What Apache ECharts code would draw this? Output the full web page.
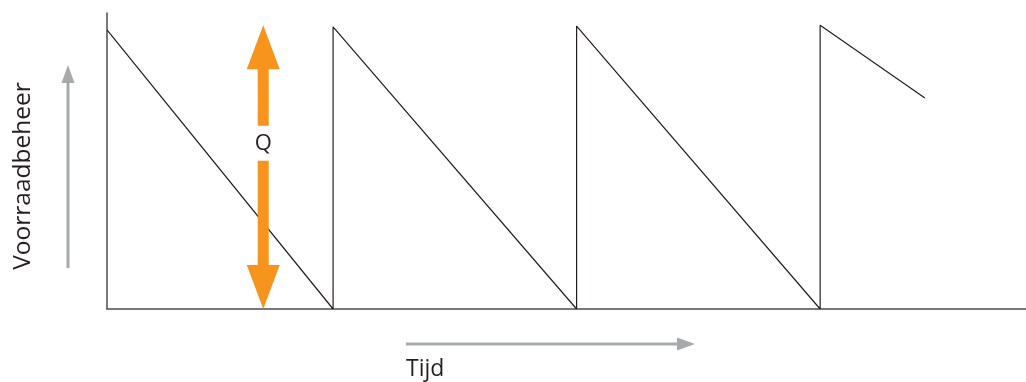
<!DOCTYPE html>
<html>
<head>
<meta charset="utf-8">
<script src="https://cdn.jsdelivr.net/npm/echarts@6/dist/echarts.min.js"></script>
<style>
  html, body { margin: 0; padding: 0; background: #fff; }
  #chart { width: 1026px; height: 382px; }
</style>
</head>
<body>
<div id="chart"></div>
<script>
// tijdstippen (x) en voorraadniveau (y) van het zaagtandverloop
const timePoints = [0, 24.6, 24.6, 51.1, 51.1, 77.6, 77.6, 89.0]
const stockLevels = [94.3, 0, 95.3, 0, 95.6, 0, 95.9, 71.3]
// bestelhoeveelheid Q: [x, van, tot]
const orderQty = [[17.0, 0, 95.9]]

const textColor = '#231f20'
const arrowGray = '#a7a9ac'
const orange = '#f7941d'

const chart = echarts.init(document.getElementById('chart'))

// dubbele pijl met Q-label in het midden
const renderQArrow = (params, api) => {
  const bottom = api.coord([api.value(0), api.value(1)])
  const top = api.coord([api.value(0), api.value(2)])
  const x = top[0]
  const headLen = 44
  const headHalf = 16.5
  const shaftHalf = 5.5
  const labelY = top[1] + (bottom[1] - top[1]) * 0.418
  return {
    type: 'group',
    children: [
      {
        type: 'polygon',
        shape: { points: [[x, top[1]], [x - headHalf, top[1] + headLen], [x + headHalf, top[1] + headLen]] },
        style: { fill: orange }
      },
      {
        type: 'rect',
        shape: { x: x - shaftHalf, y: top[1] + headLen - 1, width: shaftHalf * 2, height: labelY - 18 - (top[1] + headLen - 1) },
        style: { fill: orange }
      },
      {
        type: 'rect',
        shape: { x: x - shaftHalf, y: labelY + 17, width: shaftHalf * 2, height: bottom[1] - headLen + 1 - (labelY + 17) },
        style: { fill: orange }
      },
      {
        type: 'polygon',
        shape: { points: [[x, bottom[1]], [x - headHalf, bottom[1] - headLen], [x + headHalf, bottom[1] - headLen]] },
        style: { fill: orange }
      },
      {
        type: 'text',
        style: {
          text: 'Q', x: x, y: labelY, align: 'center', verticalAlign: 'middle',
          fontFamily: 'Open Sans', fontSize: 22, fill: textColor
        }
      }
    ]
  }
}

const option = {
  animation: false,
  grid: { left: 107, right: 0, top: 13, bottom: 73 },
  xAxis: {
    type: 'value',
    min: 0,
    max: 100,
    axisLine: { show: true, lineStyle: { color: '#4d4d4f', width: 1.5 } },
    axisTick: { show: false },
    axisLabel: { show: false },
    splitLine: { show: false }
  },
  yAxis: {
    type: 'value',
    min: 0,
    max: 100,
    axisLine: { show: true, lineStyle: { color: '#4d4d4f', width: 1.5 } },
    axisTick: { show: false },
    axisLabel: { show: false },
    splitLine: { show: false }
  },
  series: [
    {
      type: 'line',
      data: timePoints.map((t, i) => [t, stockLevels[i]]),
      symbol: 'none',
      lineStyle: { color: '#231f20', width: 1.2 },
      z: 3
    },
    {
      type: 'custom',
      data: orderQty,
      renderItem: renderQArrow,
      z: 4
    }
  ],
  graphic: [
    // pijl langs de y-as
    { type: 'line', shape: { x1: 68, y1: 268, x2: 68, y2: 82 }, style: { stroke: arrowGray, lineWidth: 3 } },
    { type: 'polygon', shape: { points: [[68, 65], [61.5, 83], [74.5, 83]] }, style: { fill: arrowGray } },
    // pijl langs de x-as
    { type: 'line', shape: { x1: 406, y1: 344, x2: 678, y2: 344 }, style: { stroke: arrowGray, lineWidth: 3 } },
    { type: 'polygon', shape: { points: [[695, 344], [677, 337.5], [677, 350.5]] }, style: { fill: arrowGray } },
    {
      type: 'text', x: 23, y: 176, rotation: Math.PI / 2,
      style: { text: 'Voorraadbeheer', align: 'center', verticalAlign: 'middle', fontFamily: 'Open Sans', fontSize: 24.5, fill: textColor }
    },
    {
      type: 'text', x: 406, y: 369,
      style: { text: 'Tijd', align: 'left', verticalAlign: 'middle', fontFamily: 'Open Sans', fontSize: 23, fill: textColor }
    }
  ]
}

chart.setOption(option)
</script>
</body>
</html>
